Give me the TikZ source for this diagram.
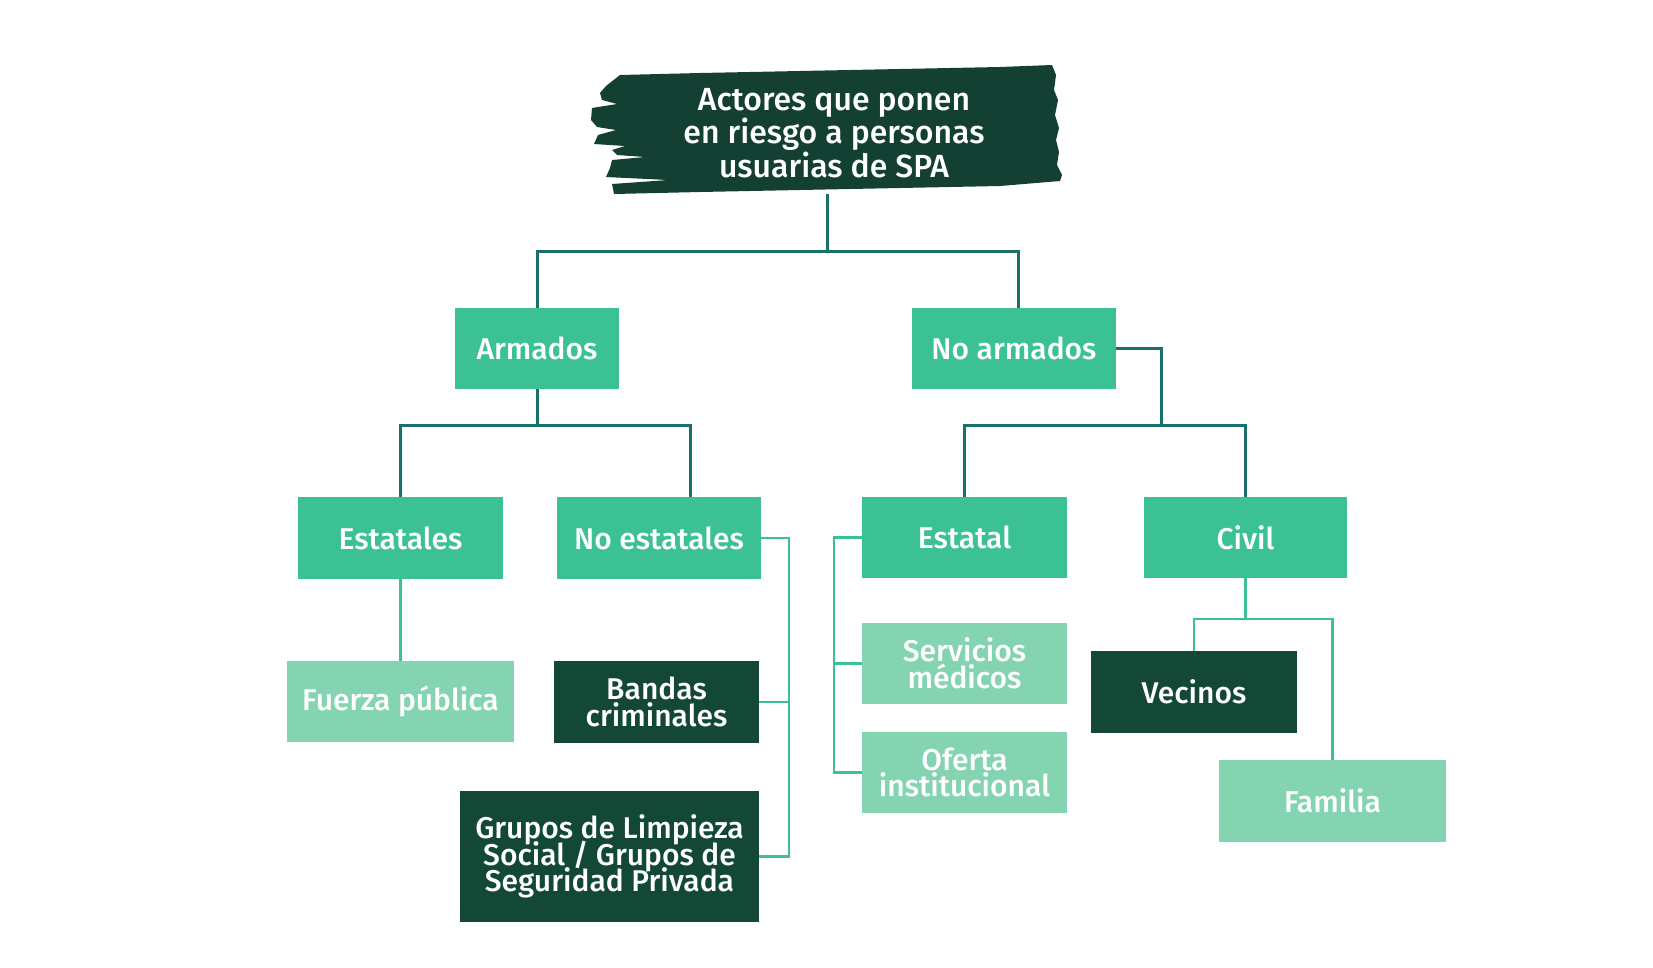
\documentclass[tikz,border=0pt]{standalone}
\usepackage{fontspec}
\setmainfont{Fira Sans Medium}
\definecolor{cmid}{RGB}{59,193,148}
\definecolor{clight}{RGB}{132,212,178}
\definecolor{cdark}{RGB}{19,72,55}
\definecolor{ctitle}{RGB}{20,64,52}
\definecolor{cteal}{RGB}{26,112,106}
\newcommand{\tightlines}{\lineskiplimit=-100pt\relax\lineskip=0pt\relax}
\newcommand{\boxfont}{\fontsize{30}{26.5}\selectfont\tightlines}
\newcommand{\titlefont}{\fontsize{32}{33.5}\selectfont\tightlines}
\tikzset{
  box/.style={rectangle, inner sep=0pt, text=white, align=center,
    font=\boxfont, minimum height=81pt},
  midbox/.style={box, fill=cmid},
  lightbox/.style={box, fill=clight},
  darkbox/.style={box, fill=cdark},
  tconn/.style={draw=cteal, line width=3pt},
  gconn/.style={draw=cmid, line width=2.5pt},
}
\begin{document}
\begin{tikzpicture}[x=1pt,y=-1pt]
\useasboundingbox[fill=white] (0,0) rectangle (1653,967);
% brush background of title
\fill[ctitle] (620,75) -- (700,73) -- (800,71) -- (900,69) -- (1000,67) -- (1052,65)
  -- (1056,75) -- (1054,90) -- (1058,100) -- (1055,115) -- (1059,128) -- (1056,140)
  -- (1059,152) -- (1057,165) -- (1062,175) -- (1060,181) -- (1000,186) -- (900,188)
  -- (800,190) -- (700,192) -- (614,194) -- (612,184) -- (668,180) -- (606,177)
  -- (610,168) -- (612,160) -- (645,157) -- (617,155) -- (612,150) -- (625,146)
  -- (594,144) -- (598,135) -- (616,130) -- (597,127) -- (591,120) -- (592,108)
  -- (617,104) -- (602,100) -- (600,93) -- (606,86) -- cycle;
\node[inner sep=0pt, minimum width=440pt, minimum height=126pt, text=white, align=center,
  font=\titlefont] (title) at (834,133)
  {Actores que ponen\\en riesgo a personas\\usuarias de SPA};

\node[midbox, minimum width=164pt] (arm) at (537,348.5) {Armados};
\node[midbox, minimum width=204pt] (noarm) at (1014,348.5) {No armados};
\node[midbox, minimum width=205pt, minimum height=82pt] (est) at (400.5,538) {Estatales};
\node[midbox, minimum width=204pt, minimum height=82pt] (noest) at (659,538) {No estatales};
\node[midbox, minimum width=205pt] (estatal) at (964.5,537.5) {Estatal};
\node[midbox, minimum width=203pt] (civil) at (1245.5,537.5) {Civil};
\node[lightbox, minimum width=227pt] (fuerza) at (400.5,701.5) {Fuerza pública};
\node[darkbox, minimum width=205pt, minimum height=82pt] (bandas) at (656.5,702) {Bandas\\criminales};
\node[darkbox, minimum width=299pt, minimum height=131pt] (grupos) at (609.5,856.5)
  {Grupos de Limpieza\\Social / Grupos de\\Seguridad Privada};
\node[lightbox, minimum width=205pt] (serv) at (964.5,663.5) {Servicios\\médicos};
\node[lightbox, minimum width=205pt] (oferta) at (964.5,772.5) {Oferta\\institucional};
\node[darkbox, minimum width=206pt, minimum height=82pt] (vecinos) at (1194,692) {Vecinos};
\node[lightbox, minimum width=227pt, minimum height=82pt] (familia) at (1332.5,801) {Familia};

% connectors
\coordinate (tb) at (827,251);
\draw[tconn] (827,194) -- (tb);
\draw[tconn] (arm.north) |- (tb) -| ([xshift=4pt]noarm.north);
\coordinate (ab) at (537,425);
\draw[tconn] (arm.south) -- (ab);
\draw[tconn] (est.north) |- (ab) -| ([xshift=31pt]noest.north);
\coordinate (nab) at (1161,425);
\draw[tconn] (noarm.east) -| (nab);
\draw[tconn] (estatal.north) |- (nab) -| (civil.north);

\draw[gconn] (est.south) -- (fuerza.north);
\coordinate (rail) at (789,538);
\draw[gconn] (noest.east) -- (rail) |- (grupos.east);
\draw[gconn] (bandas.east) -- (bandas.east -| rail);
\coordinate (rail2) at (834,537.5);
\draw[gconn] (estatal.west) -- (rail2) |- (oferta.west);
\draw[gconn] (serv.west) -- (serv.west -| rail2);
\coordinate (cb) at (1245.5,619);
\draw[gconn] (civil.south) -- (cb);
\draw[gconn] (vecinos.north) |- (cb) -| (familia.north);
\end{tikzpicture}
\end{document}
